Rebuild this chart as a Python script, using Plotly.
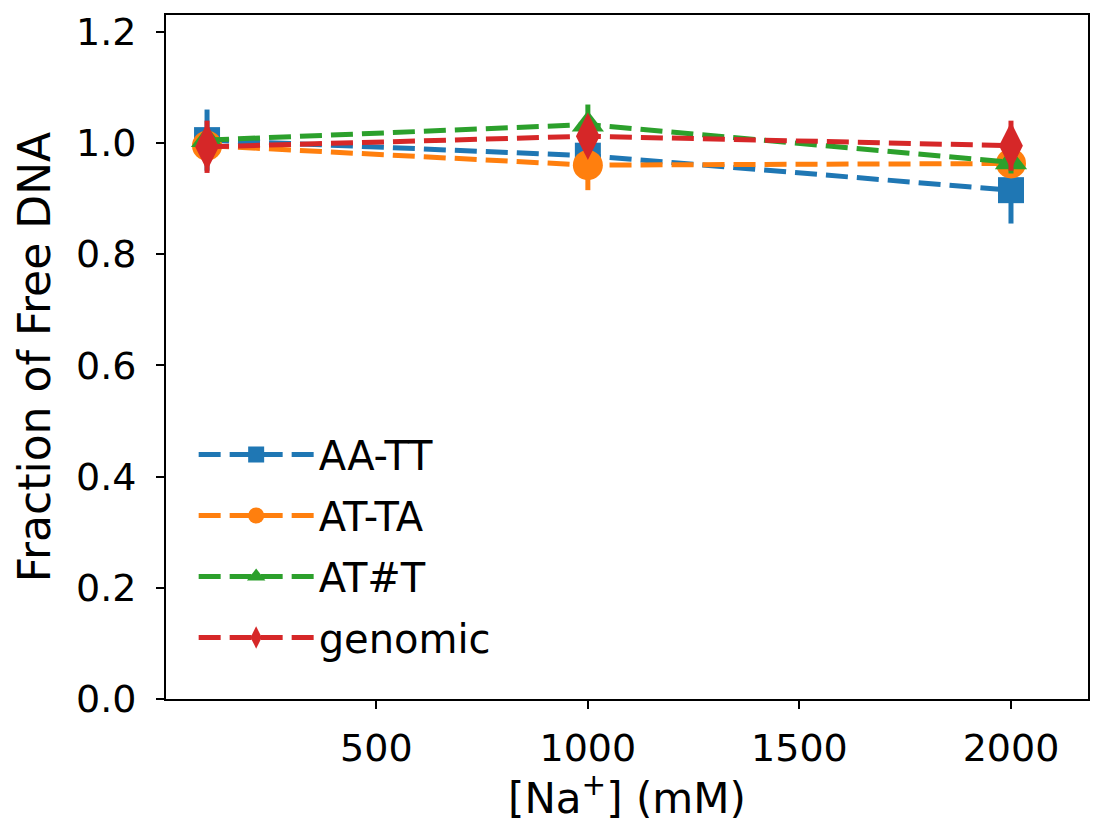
import plotly.graph_objects as go

na_mM = [100, 1000, 2000]

aa_tt = [1.005, 0.977, 0.915]
aa_tt_err = [0.055, 0.03, 0.06]

at_ta = [0.995, 0.960, 0.963]
at_ta_err = [0.02, 0.045, 0.02]

at_hash_t = [1.005, 1.033, 0.965]
at_hash_t_err = [0.02, 0.036, 0.02]

genomic = [0.993, 1.012, 0.995]
genomic_err = [0.047, 0.03, 0.045]

series = [
    ("AA-TT", aa_tt, aa_tt_err, "#1f77b4", "square", 26),
    ("AT-TA", at_ta, at_ta_err, "#ff7f0e", "circle", 30),
    ("AT#T", at_hash_t, at_hash_t_err, "#2ca02c", "triangle-up", 28),
    ("genomic", genomic, genomic_err, "#d62728", "diamond-tall", 34),
]

fig = go.Figure()
for i, (name, vals, errs, color, sym, size) in enumerate(series):
    fig.add_trace(go.Scatter(
        x=na_mM, y=vals, name=name, mode="lines+markers",
        legendgroup=f"g{i}",
        line=dict(color=color, width=5, dash="22px,9px"),
        marker=dict(symbol=sym, size=size, color=color, line=dict(width=0)),
        error_y=dict(type="data", array=errs, visible=True, color=color,
                     thickness=5, width=0),
    ))

font = "DejaVu Sans, Verdana, sans-serif"
fig.update_layout(
    width=1093, height=823,
    margin=dict(l=166, r=3, t=15, b=124),
    paper_bgcolor="white", plot_bgcolor="white",
    font=dict(family=font, size=38, color="black"),
    showlegend=True,
    legend=dict(x=0.03, y=0.405, xanchor="left", yanchor="top",
                bgcolor="rgba(0,0,0,0)", font=dict(size=40),
                tracegroupgap=6, itemwidth=115),
    xaxis=dict(range=[3, 2182], tickvals=[500, 1000, 1500, 2000],
               showgrid=False, zeroline=False,
               showline=True, linecolor="black", linewidth=2, mirror=True,
               ticks="outside", ticklen=8, tickwidth=2, tickcolor="black",
               ticklabelstandoff=6, tickfont=dict(size=38),
               title=dict(text="[Na<sup>+</sup>] (mM)", standoff=3,
                          font=dict(size=42))),
    yaxis=dict(range=[0, 1.23], tickvals=[0, 0.2, 0.4, 0.6, 0.8, 1.0, 1.2],
               ticktext=["0.0", "0.2", "0.4", "0.6", "0.8", "1.0", "1.2"],
               showgrid=False, zeroline=False,
               showline=True, linecolor="black", linewidth=2, mirror=True,
               ticks="outside", ticklen=8, tickwidth=2, tickcolor="black",
               ticklabelstandoff=12, tickfont=dict(size=38),
               title=dict(text="Fraction of Free DNA", standoff=12,
                          font=dict(size=44))),
)

fig.write_html("out.html")
